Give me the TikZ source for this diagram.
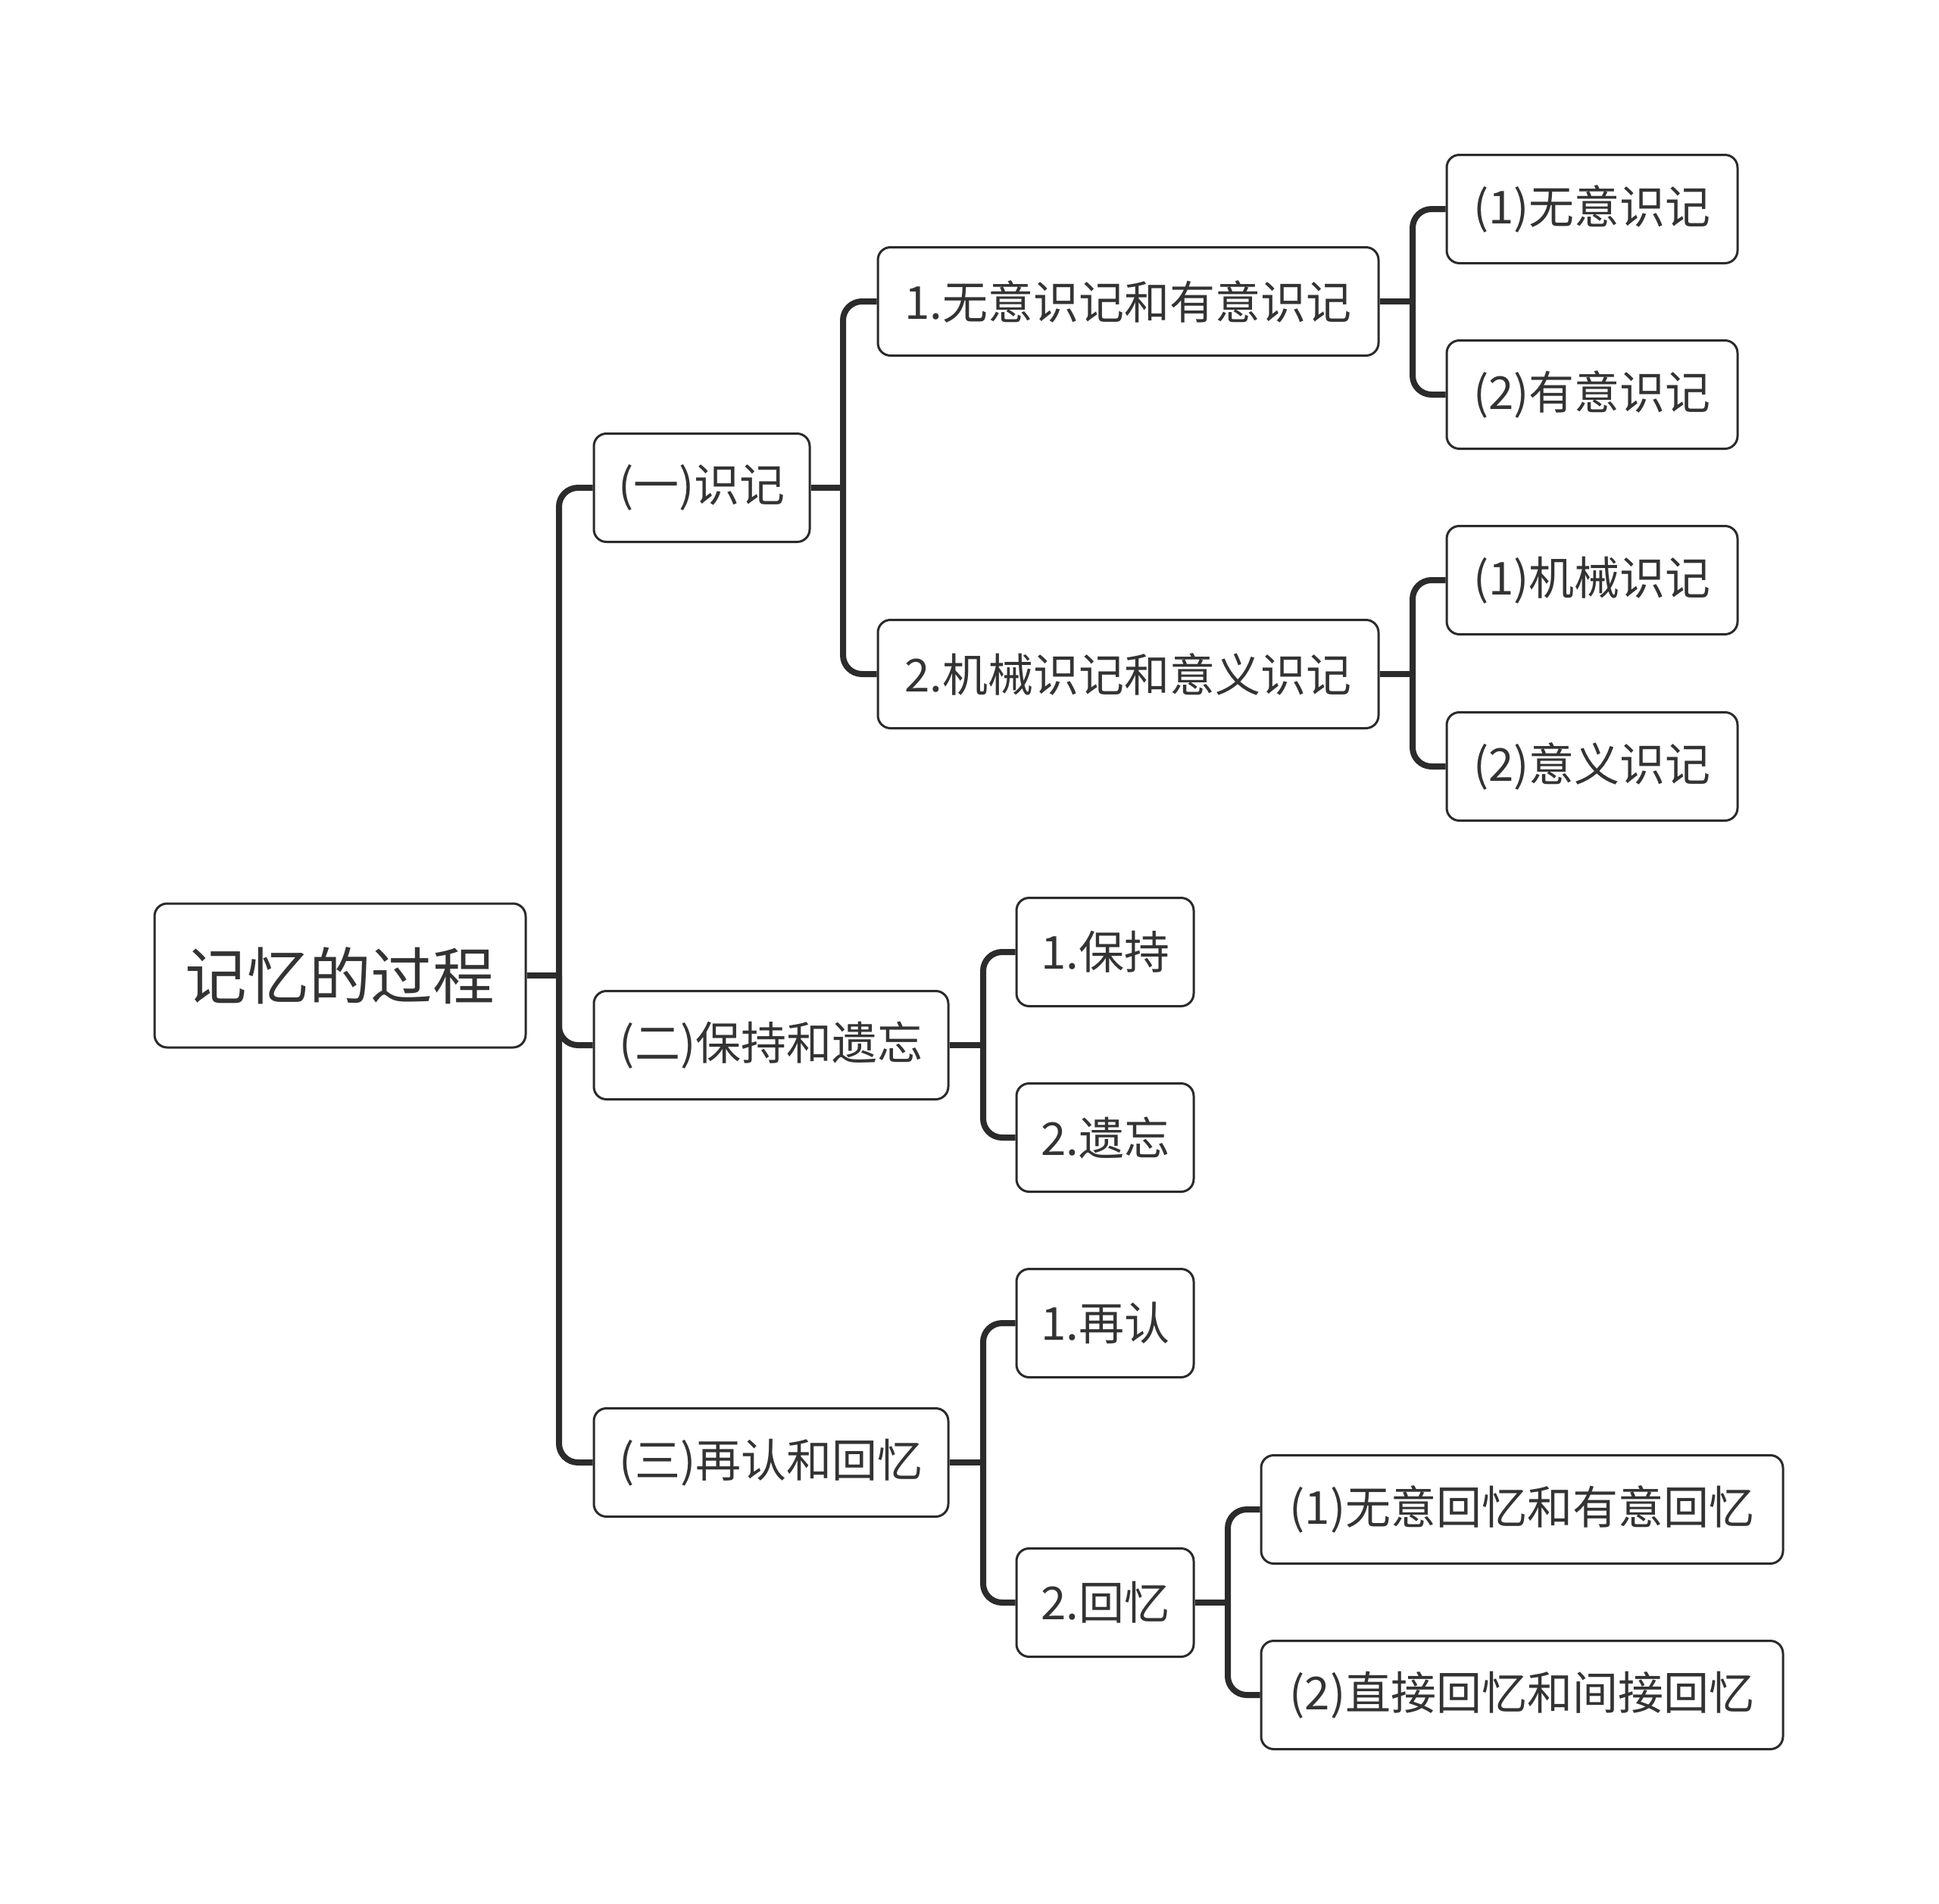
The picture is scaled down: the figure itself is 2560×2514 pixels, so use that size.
\documentclass[tikz,border=0pt]{standalone}
\usepackage{fontspec}
\setmainfont{Noto Sans CJK SC}
\usetikzlibrary{calc}
\definecolor{ink}{HTML}{2B2B2B}
\definecolor{txt}{HTML}{333333}
\tikzset{
  box/.style={draw=ink, line width=0.9pt, rounded corners=5pt, fill=white, inner sep=0pt,
    minimum height=42.9pt, text=txt, font=\fontsize{18pt}{20pt}\selectfont, anchor=center},
  rootbox/.style={box, minimum height=57pt, minimum width=147pt, font=\fontsize{24.5pt}{27pt}\selectfont},
  conn/.style={draw=ink, line width=2.4pt},
  branchline/.style={conn, rounded corners=7.5pt}
}
\begin{document}
\begin{tikzpicture}[x=0.3pt,y=-0.3pt]
\useasboundingbox (0,0) rectangle (2560,2514);
\fill[white] (0,0) rectangle (2560,2514);
% spine coordinates
\coordinate (s0) at (738,1288);
\coordinate (s1) at (1113,644);
\coordinate (s11) at (1865,398);
\coordinate (s12) at (1865,890);
\coordinate (s2) at (1298,1380);
\coordinate (s3) at (1298,1931);
\coordinate (s32) at (1621,2116);
\node[rootbox] (root) at (449,1288) {记忆的过程};
\node[box, minimum width=85.5pt] (n1) at (926.5,644) {(一)识记};
\node[box, minimum width=140.4pt] (n2) at (1018,1380) {(二)保持和遗忘};
\node[box, minimum width=140.4pt] (n3) at (1018,1931) {(三)再认和回忆};
\node[box, minimum width=198.3pt] (n11) at (1489.5,398) {1.无意识记和有意识记};
\node[box, minimum width=198.3pt] (n12) at (1489.5,890) {2.机械识记和意义识记};
\node[box, minimum width=115.2pt] (n111) at (2102,276) {(1)无意识记};
\node[box, minimum width=115.2pt] (n112) at (2102,521) {(2)有意识记};
\node[box, minimum width=115.2pt] (n121) at (2102,766) {(1)机械识记};
\node[box, minimum width=115.2pt] (n122) at (2102,1012) {(2)意义识记};
\node[box, minimum width=70.2pt] (n21) at (1459,1257) {1.保持};
\node[box, minimum width=70.2pt] (n22) at (1459,1502) {2.遗忘};
\node[box, minimum width=70.2pt] (n31) at (1459,1747) {1.再认};
\node[box, minimum width=70.2pt] (n32) at (1459,2116) {2.回忆};
\node[box, minimum width=206.7pt] (n321) at (2009.5,1993) {(1)无意回忆和有意回忆};
\node[box, minimum width=206.7pt] (n322) at (2009.5,2238) {(2)直接回忆和间接回忆};
% root
\draw[conn] (root.east) -- (s0);
\draw[branchline] (s0) |- (n1.west);
\draw[branchline] (s0) |- (n2.west);
\draw[branchline] (s0) |- (n3.west);
% n1
\draw[conn] (n1.east) -- (s1);
\draw[branchline] (s1) |- (n11.west);
\draw[branchline] (s1) |- (n12.west);
% n11
\draw[conn] (n11.east) -- (s11);
\draw[branchline] (s11) |- (n111.west);
\draw[branchline] (s11) |- (n112.west);
% n12
\draw[conn] (n12.east) -- (s12);
\draw[branchline] (s12) |- (n121.west);
\draw[branchline] (s12) |- (n122.west);
% n2
\draw[conn] (n2.east) -- (s2);
\draw[branchline] (s2) |- (n21.west);
\draw[branchline] (s2) |- (n22.west);
% n3
\draw[conn] (n3.east) -- (s3);
\draw[branchline] (s3) |- (n31.west);
\draw[branchline] (s3) |- (n32.west);
% n32
\draw[conn] (n32.east) -- (s32);
\draw[branchline] (s32) |- (n321.west);
\draw[branchline] (s32) |- (n322.west);
\end{tikzpicture}
\end{document}
